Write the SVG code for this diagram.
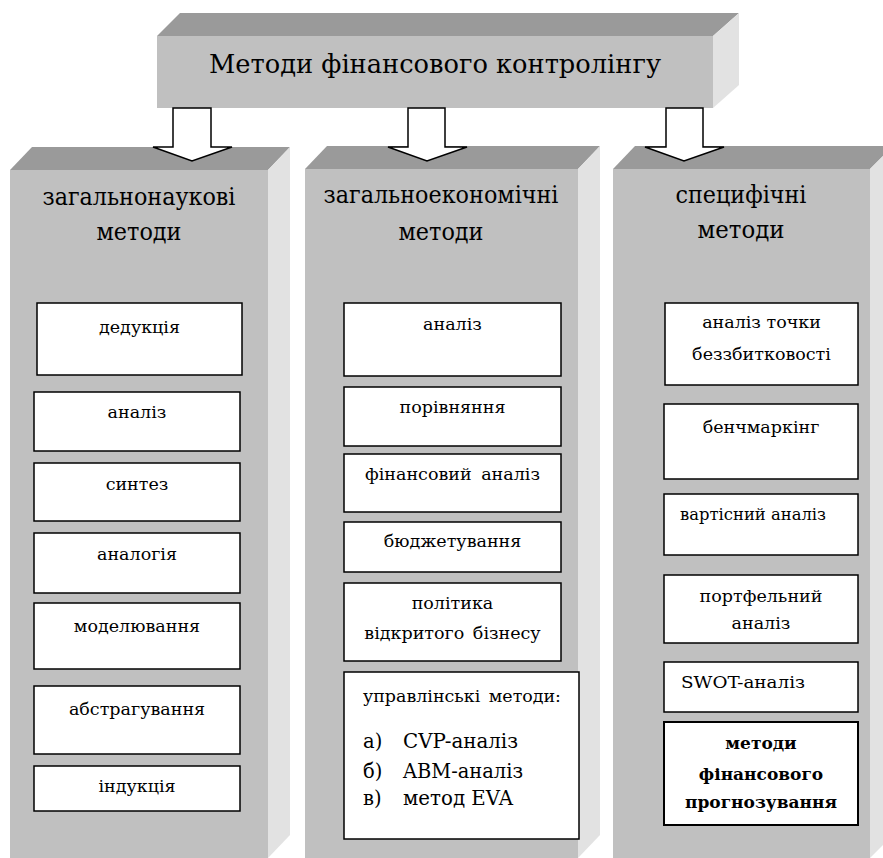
<svg xmlns="http://www.w3.org/2000/svg" width="883" height="858" viewBox="0 0 883 858">
<style>
.top{fill:#9a9a9a}
.front{fill:#c0c0c0}
.side{fill:#e2e2e2}
.box{fill:#ffffff;stroke:#000;stroke-width:1.5}
.boxb{fill:#ffffff;stroke:#000;stroke-width:2}
.arrow{fill:#ffffff;stroke:#000;stroke-width:1.5;stroke-linejoin:miter}
text{font-family:"DejaVu Serif","Liberation Serif",serif;fill:#000}
.t{font-size:17.5px;text-anchor:middle}
.h{font-size:23.5px;text-anchor:middle}
.title{font-size:26px;text-anchor:middle}
.l{font-size:19.5px}
.b{font-size:17px;font-weight:bold;text-anchor:middle}
</style>
<rect width="883" height="858" fill="#ffffff"/>

<g id="main">
<polygon class="top" points="157,36 180,13 739,13 713,36"/>
<rect class="front" x="157" y="36" width="556" height="72"/>
<polygon class="side" points="713,36 739,13 739,85 713,108"/>
<text class="title" x="435" y="73" textLength="452" lengthAdjust="spacingAndGlyphs">Методи фінансового контролінгу</text>
</g>

<g id="col1">
<polygon class="top" points="10,170 32,147 290,147 268,170"/>
<rect class="front" x="10" y="170" width="258" height="690"/>
<polygon class="side" points="268,170 290,147 290,835 268,858"/>
<text class="h" x="139" y="205" textLength="193" lengthAdjust="spacingAndGlyphs">загальнонаукові</text>
<text class="h" x="139" y="240" textLength="85" lengthAdjust="spacingAndGlyphs">методи</text>
</g>

<g id="col2">
<polygon class="top" points="305,169 327,146 600,146 578,169"/>
<rect class="front" x="305" y="169" width="273" height="691"/>
<polygon class="side" points="578,169 600,146 600,835 578,858"/>
<text class="h" x="441" y="203" textLength="235" lengthAdjust="spacingAndGlyphs">загальноекономічні</text>
<text class="h" x="441" y="240" textLength="85" lengthAdjust="spacingAndGlyphs">методи</text>
</g>

<g id="col3">
<polygon class="top" points="613,169 635,146 893,146 870,169"/>
<rect class="front" x="613" y="169" width="257" height="691"/>
<polygon class="side" points="870,169 893,146 893,835 870,858"/>
<text class="h" x="741" y="203" textLength="131" lengthAdjust="spacingAndGlyphs">специфічні</text>
<text class="h" x="741" y="238" textLength="87" lengthAdjust="spacingAndGlyphs">методи</text>
</g>

<g id="connectors">
<polygon class="arrow" points="173,108 211,108 211,147 232,147 192,161 153,147 173,147"/>
<polygon class="arrow" points="408,108 445,108 445,147 467,147 427,161 388,147 408,147"/>
<polygon class="arrow" points="666,108 703,108 703,147 724,147 684,161 645,147 666,147"/>
</g>

<g id="n-deduktsiia"><rect class="box" x="37" y="303" width="205" height="72"/><text class="t" x="139.5" y="333">дедукція</text></g>
<g id="n-analiz1"><rect class="box" x="34" y="392" width="206" height="59"/><text class="t" x="137" y="418">аналіз</text></g>
<g id="n-syntez"><rect class="box" x="34" y="463" width="206" height="58"/><text class="t" x="137" y="490">синтез</text></g>
<g id="n-analohiia"><rect class="box" x="34" y="533" width="206" height="60"/><text class="t" x="137" y="560">аналогія</text></g>
<g id="n-modeliuvannia"><rect class="box" x="34" y="603" width="206" height="66"/><text class="t" x="137" y="632">моделювання</text></g>
<g id="n-abstrahuvannia"><rect class="box" x="34" y="686" width="206" height="68"/><text class="t" x="137" y="715">абстрагування</text></g>
<g id="n-induktsiia"><rect class="box" x="34" y="766" width="206" height="45"/><text class="t" x="137" y="792">індукція</text></g>

<g id="n-analiz2"><rect class="box" x="344" y="303" width="217" height="73"/><text class="t" x="452.5" y="330">аналіз</text></g>
<g id="n-porivniannia"><rect class="box" x="344" y="387" width="217" height="59"/><text class="t" x="452.5" y="413">порівняння</text></g>
<g id="n-finanalysis"><rect class="box" x="344" y="454" width="217" height="58"/><text class="t" x="452.5" y="480" word-spacing="4">фінансовий аналіз</text></g>
<g id="n-budget"><rect class="box" x="344" y="522" width="217" height="50"/><text class="t" x="452.5" y="547">бюджетування</text></g>
<g id="n-polityka"><rect class="box" x="344" y="583" width="217" height="78"/><text class="t" x="452.5" y="609">політика</text><text class="t" x="452.5" y="639" word-spacing="3">відкритого бізнесу</text></g>
<g id="n-upravlinski"><rect class="box" x="344" y="672" width="235" height="167"/>
<text class="t" x="462" y="702" word-spacing="3" textLength="198" lengthAdjust="spacingAndGlyphs">управлінські методи:</text>
<text class="l" x="363" y="748">а)</text><text class="l" x="403" y="748" textLength="115" lengthAdjust="spacingAndGlyphs">CVP-аналіз</text>
<text class="l" x="363" y="778">б)</text><text class="l" x="403" y="778" textLength="120" lengthAdjust="spacingAndGlyphs">ABM-аналіз</text>
<text class="l" x="363" y="805">в)</text><text class="l" x="403" y="805" textLength="110" lengthAdjust="spacingAndGlyphs">метод EVA</text>
</g>

<g id="n-breakeven"><rect class="box" x="665" y="303" width="193" height="82"/><text class="t" x="761.5" y="328">аналіз точки</text><text class="t" x="761.5" y="360">беззбитковості</text></g>
<g id="n-benchmarking"><rect class="box" x="664" y="404" width="194" height="75"/><text class="t" x="761" y="433">бенчмаркінг</text></g>
<g id="n-vartisnyi"><rect class="box" x="664" y="494" width="194" height="61"/><text class="t" x="753" y="520" textLength="146" lengthAdjust="spacingAndGlyphs">вартісний аналіз</text></g>
<g id="n-portfelnyi"><rect class="box" x="664" y="575" width="194" height="68"/><text class="t" x="761" y="602">портфельний</text><text class="t" x="761" y="629">аналіз</text></g>
<g id="n-swot"><rect class="box" x="664" y="662" width="194" height="50"/><text class="t" x="743" y="688" textLength="124" lengthAdjust="spacingAndGlyphs">SWOT-аналіз</text></g>
<g id="n-prognoz"><rect class="boxb" x="664" y="722" width="194" height="103"/><text class="b" x="761" y="749">методи</text><text class="b" x="761" y="780">фінансового</text><text class="b" x="761" y="808" textLength="152" lengthAdjust="spacingAndGlyphs">прогнозування</text></g>
</svg>
